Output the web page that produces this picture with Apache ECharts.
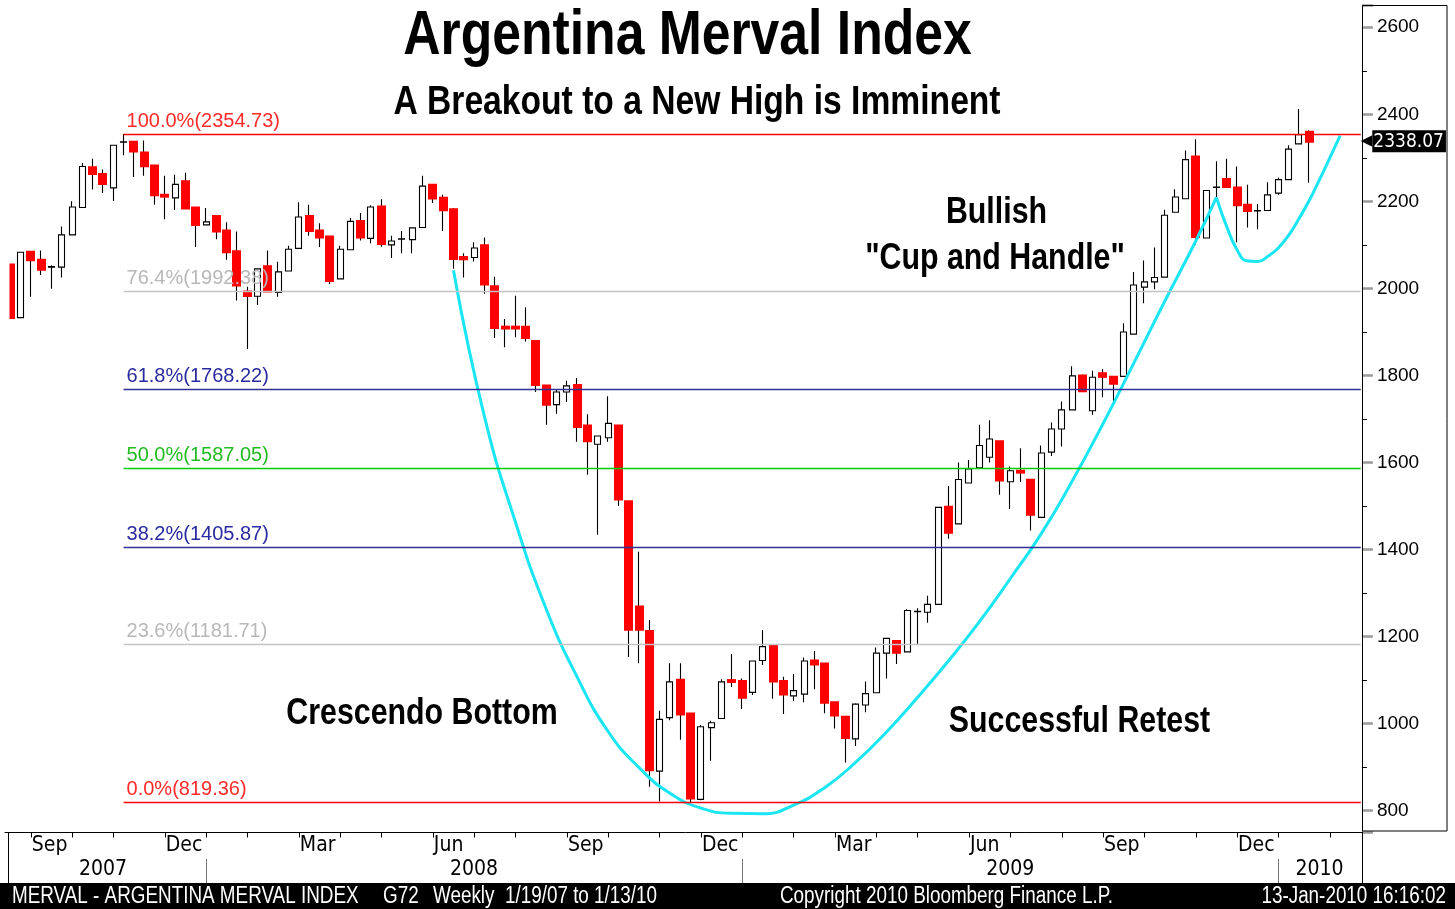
<!DOCTYPE html>
<html><head><meta charset="utf-8">
<script src="https://cdn.jsdelivr.net/npm/echarts@6/dist/echarts.min.js"></script>
<style>html,body{margin:0;padding:0;background:#fff}#c{width:1455px;height:909px}</style>
</head><body><div id="c"></div>
<script>
// ---------- data ----------
const firstWeek = '2007-08-17';   // Friday of first weekly bar shown
const weekCount = 132;            // weekly slots on the axis (data + empty future weeks)
const opens  = [2054,1933,2083,2065,2049,2049,2123,2186,2277,2262,2231,2336,2336,2311,2281,2214,2208,2245,2185,2146,2165,2132,2084,1992,1982,2050,1991,2040,2092,2165,2132,2118,2022,2089,2154,2115,2187,2100,2113,2112,2140,2237,2207,2181,2071,2071,2098,2004,1911,1911,1911,1878,1776,1733,1762,1777,1684,1642,1657,1684,1510,1268,1212,891,1014,1100,1022,826,991,1012,1099,1097,1072,1145,1179,1097,1064,1068,1144,1137,1048,1015,965,1043,1071,1162,1189,1165,1257,1256,1274,1497,1459,1553,1588,1612,1648,1556,1580,1559,1474,1624,1677,1721,1799,1719,1804,1796,1798,1895,2003,2015,2026,2175,2206,2302,2116,2232,2250,2231,2191,2178,2179,2219,2250,2332,2359];
const closes = [1933,2083,2066,2044,2050,2123,2187,2280,2264,2241,2329,2337,2316,2282,2215,2212,2239,2185,2147,2153,2132,2084,2008,1984,2045,1994,2038,2090,2164,2133,2118,2018,2090,2154,2118,2187,2103,2109,2114,2139,2235,2208,2181,2069,2068,2093,2010,1910,1909,1909,1887,1779,1734,1762,1776,1683,1650,1661,1690,1516,1217,1217,894,1010,1096,1022,829,993,1002,1096,1097,1061,1144,1177,1098,1068,1076,1144,1137,1049,1020,968,1045,1069,1162,1196,1164,1260,1258,1274,1497,1440,1561,1585,1639,1654,1560,1581,1578,1481,1622,1677,1721,1799,1765,1796,1798,1782,1900,2008,2015,2025,2168,2210,2296,2119,2225,2233,2234,2192,2179,2179,2215,2250,2320,2353,2338.07];
const lows   = [1933,1933,1981,2031,1999,2025,2122,2185,2227,2219,2201,2306,2256,2259,2192,2159,2180,2184,2095,2145,2113,2066,1972,1861,1962,1993,1981,2039,2091,2121,2095,2010,2021,2088,2110,2104,2096,2070,2081,2081,2139,2196,2132,2045,2025,2062,1988,1886,1865,1888,1878,1762,1687,1712,1739,1648,1572,1434,1648,1500,1153,1139,855,821,1008,963,819.36,824,915,1011,1084,1034,1066,1135,1057,1022,1052,1049,1079,1024,989,911,949,1026,1070,1104,1137,1164,1182,1232,1273,1425,1458,1552,1587,1600,1526,1493,1555,1444,1473,1615,1637,1720,1762,1710,1750,1735,1797,1894,1966,1998,2025,2174,2205,2100,2115,2210,2233,2106,2140,2136,2178,2215,2249,2331,2243];
const highs  = [2054,2083,2083,2087,2053,2142,2200,2288,2298,2273,2330,2354.73,2337,2340,2283,2259,2261,2266,2186,2185,2166,2152,2131,2004,2046,2087,2061,2098,2198,2192,2150,2119,2098,2162,2173,2191,2205,2121,2132,2140,2259,2238,2215,2185,2081,2106,2117,2027,1930,1983,1957,1879,1777,1767,1788,1794,1711,1662,1752,1685,1511,1395,1238,1030,1139,1139,1023,997,1007,1102,1160,1104,1145,1215,1180,1108,1114,1152,1167,1138,1049,1016,1047,1097,1175,1197,1192,1263,1265,1294,1498,1546,1600,1606,1687,1697,1649,1591,1633,1560,1639,1692,1740,1821,1802,1811,1815,1797,1920,2038,2064,2094,2181,2228,2317,2343,2226,2292,2298,2280,2238,2194,2244,2255,2329,2412,2363];

const fibHigh = 2354.73, fibLow = 819.36, fibStartIndex = 11;
const fibRatios = [1, 0.764, 0.618, 0.5, 0.382, 0.236, 0];
const fibLineColors = ['#ff0000','#c4c4c4','#303098','#00cc00','#303098','#c4c4c4','#ff0000'];
const fibTextColors = ['#ff2a2a','#b8b8b8','#2a2aa0','#22bb22','#2a2aa0','#b8b8b8','#ff2a2a'];
const lastPrice = 2338.07;

// cyan "cup" and "handle" annotation curves: [week index, index level]
const cupIdx = [43,46,49,52,55,58,61,64,67,70,73,76,79,82,85,88,91,94,97,100,103,106,109,112,115,117];
const cupVal = [2042,1706,1464,1263,1107,982,899,840,806,794,793,813,853,911,981,1060,1144,1234,1333,1436,1557,1689,1829,1971,2109,2209];
const handleIdx = [117,118,119,120,121,122,123,124,125,126,127,128,129];
const handleVal = [2209,2142,2089,2063,2062,2074,2093,2122,2160,2202,2250,2300,2351];

const monthNames = ['Jan','Feb','Mar','Apr','May','Jun','Jul','Aug','Sep','Oct','Nov','Dec'];
const labelledMonths = ['Mar','Jun','Sep','Dec'];

// ---------- derived ----------
const weeks = [];
{
  const t0 = Date.parse(firstWeek + 'T00:00:00Z');
  for (let i = 0; i < weekCount; i++) weeks.push(new Date(t0 + i * 7 * 86400000).toISOString().slice(0, 10));
}
const monthOf = i => +weeks[i].slice(5, 7);
const isMonthEnd = i => i + 1 < weekCount && monthOf(i + 1) !== monthOf(i);
const nextMonthName = i => monthNames[monthOf(i + 1) - 1];
const isQuarterTick = i => isMonthEnd(i) && labelledMonths.indexOf(nextMonthName(i)) >= 0;
const isYearEnd = i => isMonthEnd(i) && monthOf(i + 1) === 1;
const yearEnds = weeks.map((w, i) => i).filter(isYearEnd);
const bounds = [-0.5].concat(yearEnds, [weekCount - 0.5]);
const yearLabelIdx = [];
for (let k = 0; k < bounds.length - 1; k++) yearLabelIdx.push(Math.round((bounds[k] + bounds[k + 1]) / 2));

const ohlc = opens.map((o, i) => [o, closes[i], lows[i], highs[i]]);
const downBodies = opens.map((o, i) => closes[i] < o ? [o, closes[i], closes[i], o] : ['-', '-', '-', '-']);

const regular = '"Liberation Sans", Arial, sans-serif';
const cond = '"DejaVu Sans Condensed", "Liberation Sans", sans-serif';

const fibMarks = fibRatios.map((r, k) => {
  const v = fibLow + r * (fibHigh - fibLow);
  return [{
    coord: [fibStartIndex, v],
    lineStyle: { color: fibLineColors[k], width: 1.3, type: 'solid' },
    label: {
      show: true, position: 'insideStartTop', distance: [3, 3],
      formatter: (r * 100).toFixed(1) + '%(' + v.toFixed(2) + ')',
      color: fibTextColors[k], fontFamily: regular, fontSize: 20
    }
  }, { coord: [weekCount - 1, v] }];
});
const lastMark = [{
  coord: [opens.length - 1, lastPrice],
  lineStyle: { color: 'rgba(0,0,0,0)', width: 0 },
  label: {
    show: true, position: 'end', distance: 0,
    formatter: '{a|◀}{b|' + lastPrice.toFixed(2) + '}',
    rich: {
      a: { color: '#000', fontSize: 15, fontFamily: 'DejaVu Sans', lineHeight: 20 },
      b: { color: '#fff', backgroundColor: '#000', fontSize: 19, fontFamily: cond, padding: [2, 2, 1, 1], lineHeight: 20 }
    }
  }
}, { coord: [weekCount - 1, lastPrice] }];

function txt(text, cx, cy, size, bold, color, align, sx) {
  return { type: 'text', z: 20, silent: true, x: cx, y: cy, scaleX: sx || 0.82, scaleY: 1,
    style: { text: text, x: 0, y: 0, font: (bold ? 'bold ' : '') + size + 'px ' + regular, fill: color || '#000',
      textAlign: align || 'center', textVerticalAlign: 'middle', align: align || 'center', verticalAlign: 'middle' } };
}

const option = {
  animation: false,
  backgroundColor: '#fff',
  grid: { left: 5, top: 5.5, width: 1360.9, height: 827, containLabel: false },
  xAxis: [{
    type: 'category', data: weeks, boundaryGap: true, position: 'bottom',
    axisLine: { show: true, lineStyle: { color: '#000', width: 1 } },
    axisTick: { show: true, alignWithLabel: true, interval: i => isMonthEnd(i), length: 5, lineStyle: { color: '#000', width: 1 } },
    axisLabel: { interval: i => isQuarterTick(i), formatter: (v, i) => nextMonthName(i), align: 'left', margin: 3,
      color: '#000', fontFamily: cond, fontSize: 21, padding: [0, 0, 0, 1] },
    splitLine: { show: false }
  }, {
    type: 'category', data: weeks, boundaryGap: true, position: 'bottom', offset: 26.5,
    axisLine: { show: false },
    axisTick: { show: true, alignWithLabel: true, interval: i => isYearEnd(i), length: 24, lineStyle: { color: '#777', width: 1 } },
    axisLabel: { interval: i => yearLabelIdx.indexOf(i) >= 0, formatter: v => v.slice(0, 4), margin: 0,
      color: '#000', fontFamily: cond, fontSize: 21 },
    splitLine: { show: false }
  }],
  yAxis: {
    type: 'value', position: 'right', offset: -4, min: 750, max: 2650, splitNumber: 10, scale: true,
    axisLine: { show: true, lineStyle: { color: '#000', width: 1 } },
    axisTick: { show: true, length: 11, lineStyle: { color: '#9a9a9a', width: 2.5 } },
    minorTick: { show: true, splitNumber: 2, length: 5, lineStyle: { color: '#000', width: 1 } },
    axisLabel: { showMinLabel: false, showMaxLabel: false, margin: 15, color: '#000', fontFamily: regular, fontSize: 19,
      formatter: v => String(v) },
    splitLine: { show: false }
  },
  series: [{
    type: 'line', data: [], z: 1, silent: true,
    markLine: { silent: true, symbol: ['none', 'none'], animation: false, data: fibMarks.concat([lastMark]) }
  }, {
    type: 'candlestick', data: ohlc, z: 2, barWidth: 6.5, silent: true,
    itemStyle: { color: '#ffffff', color0: '#ff0000', borderColor: '#000', borderColor0: '#000', borderColorDoji: '#000', borderWidth: 1.1 }
  }, {
    type: 'candlestick', data: downBodies, z: 3, barWidth: 6.5, silent: true,
    itemStyle: { color: '#ff0000', color0: '#ff0000', borderColor: '#ff0000', borderColor0: '#ff0000', borderColorDoji: '#ff0000', borderWidth: 3 }
  }, {
    type: 'line', data: cupIdx.map((x, i) => [x, cupVal[i]]), z: 4, smooth: 0.5, symbol: 'none', silent: true,
    lineStyle: { color: '#19e6f2', width: 3 }
  }, {
    type: 'line', data: handleIdx.map((x, i) => [x, handleVal[i]]), z: 4, smooth: 0.5, symbol: 'none', silent: true,
    lineStyle: { color: '#19e6f2', width: 3 }
  }],
  graphic: [
    { type: 'rect', z: 15, silent: true, shape: { x: 0, y: 0, width: 9.5, height: 831 }, style: { fill: '#fff' } },
    { type: 'rect', z: 15, silent: true, shape: { x: 1362.5, y: 5.5, width: 84.5, height: 825.5 }, style: { fill: 'none', stroke: '#000', lineWidth: 1 } },
    { type: 'line', z: 15, silent: true, shape: { x1: 8.5, y1: 832, x2: 8.5, y2: 883 }, style: { stroke: '#000', lineWidth: 1 } },
    { type: 'line', z: 15, silent: true, shape: { x1: 1362.5, y1: 832, x2: 1362.5, y2: 883 }, style: { stroke: '#000', lineWidth: 1 } },
    { type: 'rect', z: 15, silent: true, shape: { x: 0, y: 883, width: 1455, height: 26 }, style: { fill: '#000' } },
    txt('Argentina Merval Index', 687.5, 37, 63, true),
    txt('A Breakout to a New High is Imminent', 697, 103, 41, true),
    txt('Bullish', 996.5, 212.5, 37, true),
    txt('"Cup and Handle"', 995, 258.5, 37, true),
    txt('Crescendo Bottom', 422, 714, 37, true),
    txt('Successful Retest', 1079.5, 722, 37, true),
    txt('MERVAL - ARGENTINA MERVAL INDEX', 12, 897, 23, false, '#fff', 'left'),
    txt('G72', 383, 897, 23, false, '#fff', 'left'),
    txt('Weekly  1/19/07 to 1/13/10', 433, 897, 23, false, '#fff', 'left'),
    txt('Copyright 2010 Bloomberg Finance L.P.', 780, 897, 23, false, '#fff', 'left'),
    txt('13-Jan-2010 16:16:02', 1446, 897, 23, false, '#fff', 'right')
  ]
};

const chart = echarts.init(document.getElementById('c'), null, { renderer: 'canvas' });
chart.setOption(option);
</script>
</body></html>
